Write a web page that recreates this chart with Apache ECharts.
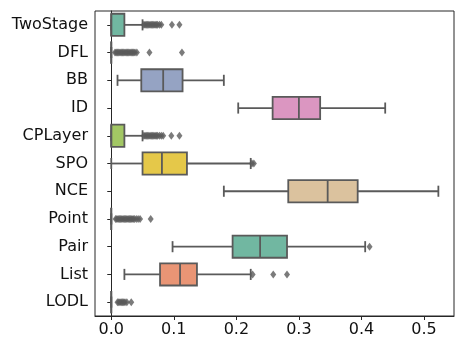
<!DOCTYPE html>
<html>
<head>
<meta charset="utf-8">
<script src="https://cdn.jsdelivr.net/npm/echarts@6/dist/echarts.min.js"></script>
<style>
html,body{margin:0;padding:0;background:#fff;}
#chart{width:465px;height:349px;}
</style>
</head>
<body>
<div id="chart"></div>
<script>
var categories = ['TwoStage','DFL','BB','ID','CPLayer','SPO','NCE','Point','Pair','List','LODL'];
var whiskerLow  = [0,     0, 0.010, 0.203, 0,     0,     0.180, 0, 0.098, 0.021, 0];
var q1          = [0,     0, 0.048, 0.258, 0,     0.050, 0.283, 0, 0.194, 0.078, 0];
var median      = [0,     0, 0.083, 0.300, 0,     0.081, 0.346, 0, 0.238, 0.110, 0];
var q3          = [0.021, 0, 0.114, 0.334, 0.021, 0.121, 0.394, 0, 0.281, 0.137, 0];
var whiskerHigh = [0.050, 0, 0.180, 0.438, 0.050, 0.223, 0.523, 0, 0.406, 0.223, 0];
var outliers = [
  [0.052,0.054,0.056,0.058,0.060,0.062,0.064,0.066,0.068,0.070,0.072,0.074,0.077,0.080,0.097,0.109],
  [0.006,0.008,0.010,0.012,0.014,0.016,0.018,0.020,0.022,0.024,0.026,0.028,0.030,0.032,0.034,0.036,0.038,0.041,0.061,0.113],
  [],
  [],
  [0.052,0.054,0.056,0.058,0.060,0.062,0.064,0.066,0.068,0.070,0.072,0.074,0.077,0.080,0.083,0.096,0.109],
  [0.225,0.228],
  [],
  [0.007,0.009,0.011,0.013,0.015,0.017,0.019,0.021,0.023,0.025,0.027,0.029,0.031,0.033,0.035,0.037,0.040,0.043,0.046,0.063],
  [0.413],
  [0.226,0.259,0.281],
  [0.010,0.012,0.014,0.016,0.018,0.020,0.022,0.025,0.032]
];
var xTicks = [0, 0.1, 0.2, 0.3, 0.4, 0.5];
var boxColors = ['#71b7a1','#e99575','#95a3c3','#db96c1','#a2c764','#e5c849','#dbc29e','#b3b3b3','#71b7a1','#e99575','#95a3c3'];

var boxData = categories.map(function(c,i){
  return [i, whiskerLow[i], q1[i], median[i], q3[i], whiskerHigh[i]];
});
var outData = [];
outliers.forEach(function(arr,i){
  arr.forEach(function(v){ outData.push([v, i]); });
});

var edge = '#5a5a5a';
var chart = echarts.init(document.getElementById('chart'), null, {renderer:'canvas'});
chart.setOption({
  animation:false,
  grid:{left:95,right:11,top:11,bottom:33,show:true,borderColor:'#262626',borderWidth:1,backgroundColor:'transparent'},
  xAxis:{
    type:'value', min:-0.026, max:0.548,
    splitLine:{show:false},
    axisLine:{show:true,onZero:false,lineStyle:{color:'#262626',width:1}},
    axisTick:{show:true,length:4,customValues:xTicks,lineStyle:{color:'#262626'}},
    axisLabel:{customValues:xTicks,fontSize:16,fontFamily:'DejaVu Sans',color:'#111',margin:6,
      formatter:function(v){return v.toFixed(1);}}
  },
  yAxis:{
    type:'category', data:categories, inverse:true,
    axisLine:{show:true,lineStyle:{color:'#262626',width:1}},
    axisTick:{show:true,alignWithLabel:true,length:4,lineStyle:{color:'#262626'}},
    axisLabel:{fontSize:16,fontFamily:'DejaVu Sans',color:'#111',margin:7},
    splitLine:{show:false}
  },
  series:[
    {
      type:'custom',
      data:boxData,
      encode:{x:[1,2,3,4,5],y:0},
      renderItem:function(params, api){
        var cat = api.value(0);
        var band = api.size([0,1])[1];
        var bw = band*0.8, h = bw/2, cap = bw/4;
        var y = api.coord([0,cat])[1];
        var px = [1,2,3,4,5].map(function(d){ return api.coord([api.value(d),cat])[0]; });
        var ls = {stroke:edge,lineWidth:1.8,fill:null};
        return {type:'group',children:[
          {type:'line',shape:{x1:px[0],y1:y,x2:px[1],y2:y},style:ls},
          {type:'line',shape:{x1:px[3],y1:y,x2:px[4],y2:y},style:ls},
          {type:'line',shape:{x1:px[0],y1:y-cap,x2:px[0],y2:y+cap},style:ls},
          {type:'line',shape:{x1:px[4],y1:y-cap,x2:px[4],y2:y+cap},style:ls},
          {type:'rect',shape:{x:px[1],y:y-h,width:px[3]-px[1],height:bw},
            style:{fill:boxColors[cat],stroke:edge,lineWidth:1.8}},
          {type:'line',shape:{x1:px[2],y1:y-h,x2:px[2],y2:y+h},style:ls}
        ]};
      }
    },
    {
      type:'scatter',
      data:outData,
      symbol:'diamond',
      symbolSize:[6,8],
      itemStyle:{color:edge}
    }
  ]
});
</script>
</body>
</html>
